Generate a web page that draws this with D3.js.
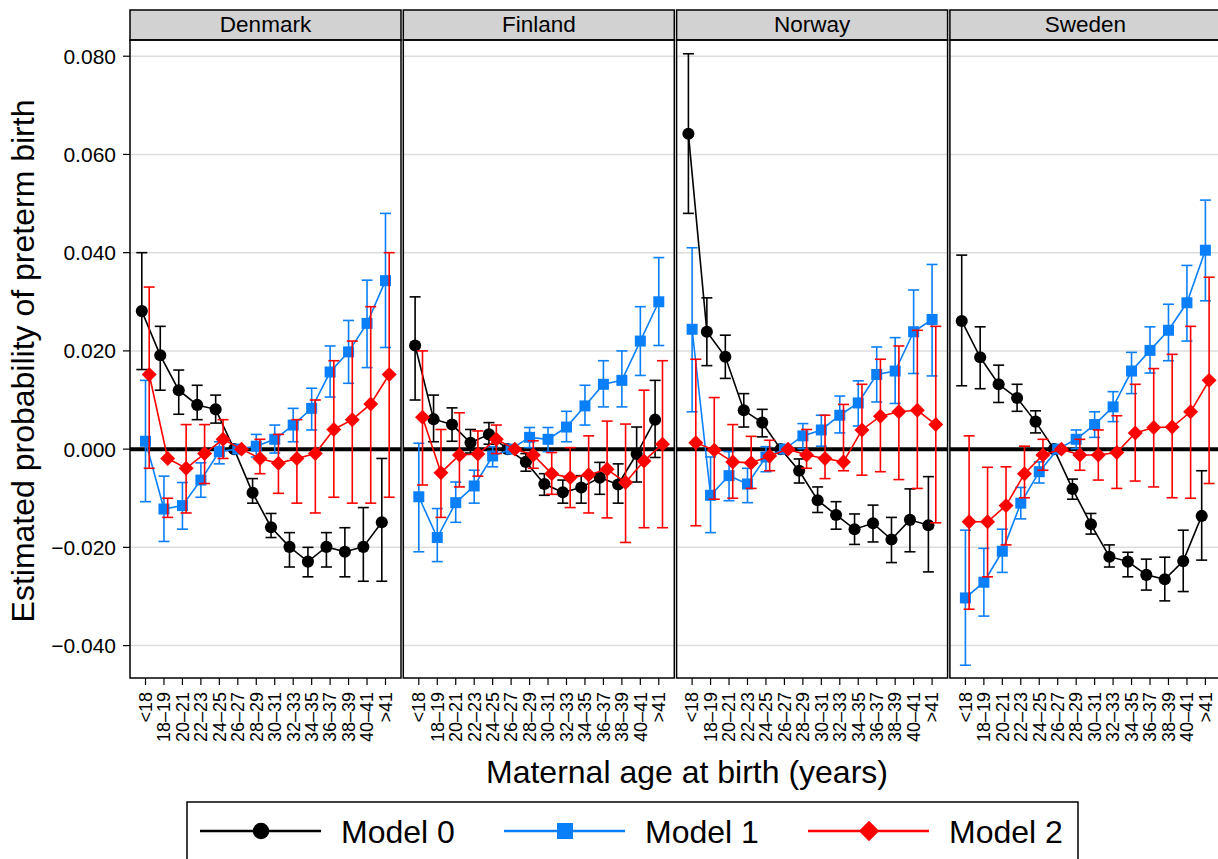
<html>
<head>
<meta charset="utf-8">
<script src="https://d3js.org/d3.v7.min.js" charset="utf-8"></script>
<style>
  body { margin: 0; background: white; }
  text { font-family: "Liberation Sans", Arial, sans-serif; fill: black; }
</style>
</head>
<body>
<div id="chart"></div>
<script>
  // age groups and countries
  const ages = ["<18", "18\u201319", "20\u201321", "22\u201323", "24\u201325", "26\u201327", "28\u201329",
    "30\u201331", "32\u201333", "34\u201335", "36\u201337", "38\u201339", "40\u201341", ">41"];
  const countries = ["Denmark", "Finland", "Norway", "Sweden"];
  const models = ["Model 0", "Model 1", "Model 2"];
  const yTicks = [0.08, 0.06, 0.04, 0.02, 0, -0.02, -0.04];

  // [estimate, lower, upper]; 26-27 is the reference group
  const denmark0 = [[0.0281, 0.0162, 0.040], [0.0191, 0.012, 0.025], [0.012, 0.0071, 0.0161], [0.009, 0.006, 0.013],
    [0.0081, 0.0053, 0.011], [0, null, null], [-0.0089, -0.011, -0.006], [-0.0159, -0.018, -0.0131],
    [-0.0199, -0.024, -0.017], [-0.0229, -0.026, -0.020], [-0.0199, -0.024, -0.017], [-0.0209, -0.026, -0.016],
    [-0.0199, -0.0269, -0.0119], [-0.0149, -0.0269, -0.0019]];
  const denmark1 = [[0.0016, -0.0107, 0.014], [-0.0122, -0.0188, -0.0055], [-0.0115, -0.0163, -0.0068], [-0.0063, -0.0098, -0.0028],
    [-0.0005, -0.003, 0.0015], [0, null, null], [0.0006, -0.0016, 0.003], [0.002, -0.0008, 0.0049],
    [0.0049, 0.0015, 0.0083], [0.0083, 0.0039, 0.0124], [0.0157, 0.0106, 0.021], [0.0198, 0.0134, 0.0262],
    [0.0256, 0.0166, 0.0344], [0.0343, 0.0207, 0.048]];
  const denmark2 = [[0.0152, -0.0039, 0.033], [-0.0019, -0.0139, -0.0100], [-0.0039, -0.013, 0.005], [-0.0009, -0.007, 0.005],
    [0.002, -0.0019, 0.006], [0, null, null], [-0.0019, -0.005, 0.002], [-0.0029, -0.009, 0.003],
    [-0.0019, -0.011, 0.006], [-0.0009, -0.013, 0.010], [0.004, -0.0098, 0.018], [0.006, -0.011, 0.022],
    [0.0092, -0.011, 0.029], [0.0152, -0.0098, 0.040]];

  const finland0 = [[0.0211, 0.010, 0.031], [0.0061, 0.0015, 0.011], [0.005, 0.0016, 0.0084], [0.0013, -0.0008, 0.004],
    [0.003, 0.001, 0.0054], [0, null, null], [-0.0026, -0.0045, -0.0009], [-0.0071, -0.0094, -0.005],
    [-0.0088, -0.011, -0.0063], [-0.0078, -0.011, -0.0054], [-0.0058, -0.0092, -0.0027], [-0.0072, -0.011, -0.003],
    [-0.001, -0.0067, 0.0045], [0.006, -0.0017, 0.014]];
  const finland1 = [[-0.0097, -0.0209, 0.0012], [-0.018, -0.0229, -0.0121], [-0.0109, -0.0149, -0.0067], [-0.0075, -0.011, -0.0043],
    [-0.0014, -0.0036, 0.0005], [0, null, null], [0.0024, 0.0003, 0.0044], [0.002, -0.0005, 0.0044],
    [0.0045, 0.0015, 0.0077], [0.0088, 0.0049, 0.013], [0.0132, 0.0086, 0.018], [0.014, 0.0086, 0.020],
    [0.022, 0.015, 0.029], [0.030, 0.0211, 0.039]];
  const finland2 = [[0.0065, -0.0073, 0.020], [-0.0048, -0.0139, 0.004], [-0.0012, -0.0077, 0.0074], [-0.001, -0.0055, 0.0037],
    [0.002, -0.0009, 0.0049], [0, null, null], [-0.0012, -0.0039, 0.0017], [-0.005, -0.0092, -0.0007],
    [-0.0058, -0.0119, 0.0003], [-0.0052, -0.013, 0.0027], [-0.0041, -0.014, 0.0057], [-0.0068, -0.019, 0.0051],
    [-0.0024, -0.016, 0.012], [0.001, -0.016, 0.018]];

  const norway0 = [[0.0642, 0.048, 0.0805], [0.0239, 0.017, 0.0308], [0.0188, 0.0144, 0.0232], [0.0079, 0.0045, 0.0113],
    [0.0054, 0.0025, 0.0081], [0, null, null], [-0.0044, -0.0069, -0.002], [-0.0104, -0.0129, -0.0077],
    [-0.0134, -0.0163, -0.0107], [-0.0163, -0.0194, -0.0132], [-0.0151, -0.0189, -0.0114], [-0.0184, -0.0231, -0.0139],
    [-0.0144, -0.0209, -0.0081], [-0.0155, -0.025, -0.0056]];
  const norway1 = [[0.0244, 0.0076, 0.041], [-0.0094, -0.017, -0.0016], [-0.0054, -0.0105, -0.0005], [-0.0071, -0.0109, -0.0039],
    [-0.0016, -0.0046, 0.0005], [0, null, null], [0.0027, 0.0001, 0.0052], [0.0039, 0.0006, 0.0069],
    [0.0069, 0.0033, 0.0108], [0.0094, 0.0047, 0.0139], [0.0152, 0.0096, 0.0208], [0.0159, 0.0093, 0.0227],
    [0.0239, 0.0154, 0.0324], [0.0264, 0.0149, 0.0376]];
  const norway2 = [[0.0013, -0.0156, 0.0183], [-0.0002, -0.0102, 0.0105], [-0.0026, -0.010, 0.005], [-0.0028, -0.008, 0.0026],
    [-0.0014, -0.0044, 0.0018], [0, null, null], [-0.0012, -0.0039, 0.004], [-0.0019, -0.006, 0.0069],
    [-0.0026, -0.0044, 0.0091], [0.0039, -0.0053, 0.0132], [0.0067, -0.0046, 0.0183], [0.0076, -0.0062, 0.021],
    [0.0079, -0.008, 0.0242], [0.005, -0.015, 0.025]];

  const sweden0 = [[0.0261, 0.0129, 0.0395], [0.0187, 0.0123, 0.0249], [0.0132, 0.0095, 0.0171], [0.0104, 0.0077, 0.0132],
    [0.0056, 0.0033, 0.0078], [0, null, null], [-0.0081, -0.0102, -0.0061], [-0.0153, -0.0173, -0.0131],
    [-0.0219, -0.024, -0.0195], [-0.0229, -0.026, -0.021], [-0.0256, -0.0287, -0.0224], [-0.0265, -0.0309, -0.022],
    [-0.0228, -0.029, -0.0165], [-0.0136, -0.0226, -0.0044]];
  const sweden1 = [[-0.0303, -0.044, -0.0165], [-0.0271, -0.034, -0.0202], [-0.0208, -0.0251, -0.0163], [-0.011, -0.0142, -0.0078],
    [-0.0046, -0.0069, -0.0026], [0, null, null], [0.002, 0.0001, 0.0039], [0.005, 0.0024, 0.0076],
    [0.0086, 0.0056, 0.0117], [0.0159, 0.0113, 0.0197], [0.0201, 0.0155, 0.0249], [0.0242, 0.018, 0.0295],
    [0.0298, 0.022, 0.0374], [0.0405, 0.0302, 0.0507]];
  const sweden2 = [[-0.0148, -0.0326, 0.0027], [-0.0148, -0.026, -0.0037], [-0.0115, -0.0195, -0.0036], [-0.005, -0.0099, 0.0006],
    [-0.0012, -0.0043, 0.002], [0, null, null], [-0.0012, -0.0043, 0.002], [-0.0012, -0.0063, 0.0039],
    [-0.0007, -0.008, 0.0068], [0.0033, -0.0065, 0.0132], [0.0044, -0.0077, 0.0164], [0.0045, -0.0099, 0.0193],
    [0.0076, -0.01, 0.025], [0.014, -0.007, 0.035]];

  const series = {
    Denmark: [denmark0, denmark1, denmark2],
    Finland: [finland0, finland1, finland2],
    Norway: [norway0, norway1, norway2],
    Sweden: [sweden0, sweden1, sweden2]
  };

  const colors = ["#000000", "#0a7ffa", "#ff0000"];
  const dodge = [-3.7, 0, 3.7];

  const width = 1218, height = 859;
  const plotTop = 40, plotBottom = 678;
  const panelW = 271, panelStep = 273.3, panelLeft = 130;

  const svg = d3.select("#chart").append("svg")
    .attr("width", width).attr("height", height);

  const y = d3.scaleLinear().domain([-0.0466, 0.0833]).range([plotBottom, plotTop]);
  const x = d3.scalePoint().domain(ages).range([0, panelW]).padding(0.84);

  function fmt(t) {
    var s = Math.abs(t).toFixed(3);
    return t < 0 ? "\u2212" + s : s;
  }

  function marker(g, type, cx, cy, size, color) {
    if (type == 0) {
      g.append("circle").attr("cx", cx).attr("cy", cy).attr("r", size * 0.55).attr("fill", color);
    } else if (type == 1) {
      g.append("rect").attr("x", cx - size / 2).attr("y", cy - size / 2)
        .attr("width", size).attr("height", size).attr("fill", color);
    } else {
      var s = size * 0.68;
      g.append("path").attr("d", `M${cx},${cy - s}L${cx + s},${cy}L${cx},${cy + s}L${cx - s},${cy}Z`).attr("fill", color);
    }
  }

  countries.forEach(function (c, ci) {
    var left = panelLeft + ci * panelStep;
    var g = svg.append("g").attr("transform", `translate(${left},0)`);

    // strip
    g.append("rect").attr("x", 0).attr("y", 10).attr("width", panelW).attr("height", plotTop - 10)
      .attr("fill", "#d2d2d2").attr("stroke", "black").attr("stroke-width", 1.5);
    g.append("text").attr("x", panelW / 2).attr("y", 32).attr("text-anchor", "middle")
      .style("font-size", "22.5px").text(c);

    // grid
    g.selectAll(".grid").data(yTicks).enter().append("line")
      .attr("x1", 0).attr("x2", panelW)
      .attr("y1", d => y(d)).attr("y2", d => y(d))
      .attr("stroke", "#dddddd").attr("stroke-width", 1.5);

    // zero line
    g.append("line").attr("x1", 0).attr("x2", panelW).attr("y1", y(0)).attr("y2", y(0))
      .attr("stroke", "black").attr("stroke-width", 4);

    // x axis ticks + labels
    const xAxis = g.append("g").attr("transform", `translate(0,${plotBottom})`);
    ages.forEach(function (a) {
      xAxis.append("line").attr("x1", x(a)).attr("x2", x(a)).attr("y1", 0).attr("y2", 7)
        .attr("stroke", "black").attr("stroke-width", 1.2);
      xAxis.append("text")
        .attr("transform", `translate(${x(a)},14) rotate(-90)`)
        .attr("text-anchor", "end").attr("dy", "0.35em")
        .style("font-size", "18px").text(a);
    });

    // series
    series[c].forEach(function (data, mi) {
      var col = colors[mi];
      var pts = data.map((d, i) => ({ x: x(ages[i]) + dodge[mi], v: d[0], lo: d[1], hi: d[2] }));
      pts.forEach(function (p) {
        if (p.lo == null) return;
        g.append("line").attr("x1", p.x).attr("x2", p.x).attr("y1", y(p.lo)).attr("y2", y(p.hi))
          .attr("stroke", col).attr("stroke-width", 1.6);
        [p.lo, p.hi].forEach(function (v) {
          g.append("line").attr("x1", p.x - 5.5).attr("x2", p.x + 5.5).attr("y1", y(v)).attr("y2", y(v))
            .attr("stroke", col).attr("stroke-width", 1.6);
        });
      });
      g.append("path").datum(pts)
        .attr("d", d3.line().x(p => p.x).y(p => y(p.v)))
        .attr("fill", "none").attr("stroke", col).attr("stroke-width", 1.6);
      pts.forEach(function (p) {
        marker(g, mi, p.x, y(p.v), 11, col);
      });
    });

    // panel frame
    g.append("rect").attr("x", 0).attr("y", plotTop).attr("width", panelW).attr("height", plotBottom - plotTop)
      .attr("fill", "none").attr("stroke", "black").attr("stroke-width", 1.5);
  });

  // y axis
  const yAxis = svg.append("g").attr("transform", `translate(${panelLeft},0)`);
  yTicks.forEach(function (t) {
    yAxis.append("line").attr("x1", -7).attr("x2", 0).attr("y1", y(t)).attr("y2", y(t))
      .attr("stroke", "black").attr("stroke-width", 1.2);
    yAxis.append("text").attr("x", -14).attr("y", y(t)).attr("dy", "0.36em")
      .attr("text-anchor", "end").style("font-size", "21px")
      .text(fmt(t));
  });

  svg.append("text")
    .attr("transform", `translate(34,${(plotTop + plotBottom) / 2 + 2}) rotate(-90)`)
    .attr("text-anchor", "middle").style("font-size", "32px")
    .text("Estimated probability of preterm birth");

  svg.append("text").attr("x", 687).attr("y", 783).attr("text-anchor", "middle")
    .style("font-size", "32px").text("Maternal age at birth (years)");

  // legend
  const leg = svg.append("g");
  leg.append("rect").attr("x", 187).attr("y", 802).attr("width", 891).attr("height", 80)
    .attr("fill", "white").attr("stroke", "black").attr("stroke-width", 1.5);
  const legX = [200, 504, 808];
  models.forEach(function (m, i) {
    var lx = legX[i];
    leg.append("line").attr("x1", lx).attr("x2", lx + 121).attr("y1", 831).attr("y2", 831)
      .attr("stroke", colors[i]).attr("stroke-width", 2.5);
    marker(leg, i, lx + 61, 831, i == 1 ? 16 : 15, colors[i]);
    leg.append("text").attr("x", lx + 141).attr("y", 843).style("font-size", "32px").text(m);
  });
</script>
</body>
</html>
